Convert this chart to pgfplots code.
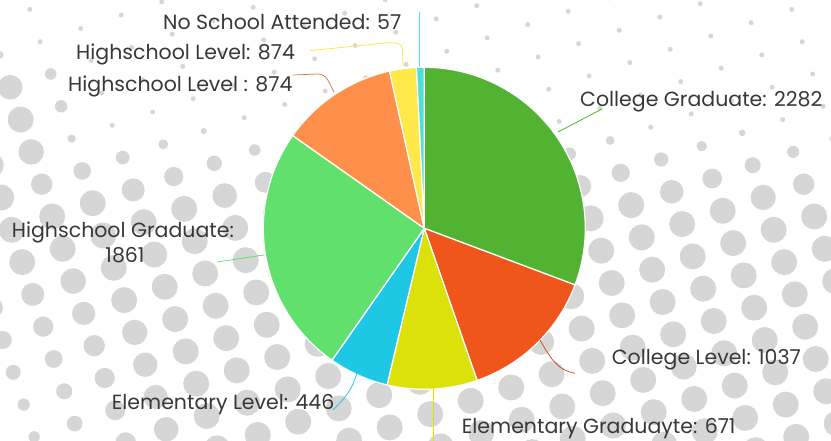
\documentclass[border=0pt]{standalone}
\usepackage{fontspec}
\setmainfont{Poppins}
\usepackage{pgfplots}
\pgfplotsset{compat=1.18}
\usepackage{pgfplotstable}

\definecolor{cCG}{HTML}{52B332}
\definecolor{cCL}{HTML}{F0561C}
\definecolor{cEG}{HTML}{DDE10A}
\definecolor{cEL}{HTML}{1EC8E4}
\definecolor{cHSG}{HTML}{62E06E}
\definecolor{cHSL}{HTML}{FF904C}
\definecolor{cHSLb}{HTML}{FFE84A}
\definecolor{cNS}{HTML}{4EE0D2}
\definecolor{dotc}{HTML}{D6D6D6}
\definecolor{txt}{HTML}{383838}

% slices clockwise from 12 o'clock (value of the small yellow slice read from its angle)
\pgfplotstableread[col sep=comma]{
name,value,col
College Graduate,2282,cCG
College Level,1037,cCL
Elementary Graduayte,671,cEG
Elementary Level,446,cEL
Highschool Graduate,1861,cHSG
Highschool Level,874,cHSL
Highschool Level b,200,cHSLb
No School Attended,57,cNS
}\piedata

\begin{document}
\begin{tikzpicture}
\begin{axis}[width=831pt,height=441pt,scale only axis,
  xmin=0,xmax=831,ymin=0,ymax=441,hide axis,clip=true]
\pgfplotsextra{%
  % background halftone dots
  \foreach \i in {-16,...,8}{%
    \foreach \j in {-15,...,8}{%
      \pgfmathsetmacro\px{611.7+40.5*\i+10.5*\j}%
      \pgfmathsetmacro\py{283-13.3*\i+32.3*\j}%
      \pgfmathsetmacro\inside{(\px>-20)&&(\px<851)&&(\py>-20)&&(\py<461)}%
      \ifdim\inside pt>0.5pt
        \pgfmathsetmacro\sa{max(0,min(1,(\py-110)/90))}%
        \pgfmathsetmacro\sb{max(0,min(1,(90-\px)/60))*max(0,min(1,(\py-40)/50))}%
        \pgfmathsetmacro\rr{max(2.5,13*max(\sa,\sb))}%
        \pgfmathsetmacro\rb{4+veclen(\px,441-\py)/20}%
        \pgfmathsetmacro\rf{min(\rr,\rb)}%
        \fill[dotc] (axis cs:\px,441-\py) circle[radius=\rf pt];
      \fi
    }%
  }%
  % pie
  \pgfplotstablegetrowsof{\piedata}\pgfmathtruncatemacro\nrows{\pgfplotsretval-1}%
  \gdef\total{0}%
  \foreach \k in {0,...,\nrows}{%
    \pgfplotstablegetelem{\k}{value}\of\piedata
    \pgfmathsetmacro\tmp{\total+\pgfplotsretval}\xdef\total{\tmp}%
  }%
  \gdef\cum{0}%
  \foreach \k in {0,...,\nrows}{%
    \pgfplotstablegetelem{\k}{value}\of\piedata\let\v\pgfplotsretval
    \pgfplotstablegetelem{\k}{col}\of\piedata\let\c\pgfplotsretval
    \pgfmathsetmacro\spn{360*(\v/\total)}%
    \pgfmathsetmacro\sa{90-\cum}%
    \pgfmathsetmacro\ea{90-\cum-\spn}%
    \fill[fill=\c,draw=white,line width=1.2pt,line join=round]
      (axis cs:424.3,212.7) -- ++(\sa:161pt) arc[start angle=\sa,end angle=\ea,radius=161pt] -- cycle;
    \pgfmathsetmacro\tmp{\cum+\spn}\xdef\cum{\tmp}%
  }%
  % leader lines
  \draw[cNS,line width=0.8pt] (axis cs:419.5,375) -- (axis cs:419.5,429);
  \draw[cHSLb,line width=0.8pt] (axis cs:403,375) -- (axis cs:402.5,392) to[out=90,in=0] (axis cs:388,398.3) -- (axis cs:310,390.3);
  \draw[cHSL!80!black,line width=0.7pt] (axis cs:334,349) to[out=120,in=0] (axis cs:318,367) -- (axis cs:293,366);
  \draw[cCG,line width=0.8pt] (axis cs:558,309) -- (axis cs:602,332);
  \draw[cHSG,line width=0.8pt] (axis cs:264,186) -- (axis cs:217,179);
  \draw[cCL!80!black,line width=0.7pt] (axis cs:540,101) to[out=-60,in=170] (axis cs:575,67.7);
  \draw[cEL,line width=0.8pt] (axis cs:356.7,67.7) to[out=-105,in=45] (axis cs:333,31);
  \draw[cEG,line width=0.8pt] (axis cs:433.3,54.3) -- (axis cs:433.3,0);
  % labels
  \begin{scope}[every node/.style={inner sep=0pt,text=txt,font=\fontsize{20.5}{24}\selectfont}]
  \node[anchor=base west] at (axis cs:163,411) {No School Attended: 57};
  \node[anchor=base west] at (axis cs:76,381) {Highschool Level: 874};
  \node[anchor=base west] at (axis cs:68,349.5) {Highschool Level : 874};
  \node[anchor=base west] at (axis cs:580,334.3) {College Graduate: 2282};
  \node[anchor=base west] at (axis cs:11.7,203.7) {Highschool Graduate:};
  \node[anchor=base] at (axis cs:125,178.3) {1861};
  \node[anchor=base west] at (axis cs:611.7,76.7) {College Level: 1037};
  \node[anchor=base west] at (axis cs:111.7,31.7) {Elementary Level: 446};
  \node[anchor=base west] at (axis cs:461.7,7) {Elementary Graduayte: 671};
  \end{scope}
}
\end{axis}
\end{tikzpicture}
\end{document}
